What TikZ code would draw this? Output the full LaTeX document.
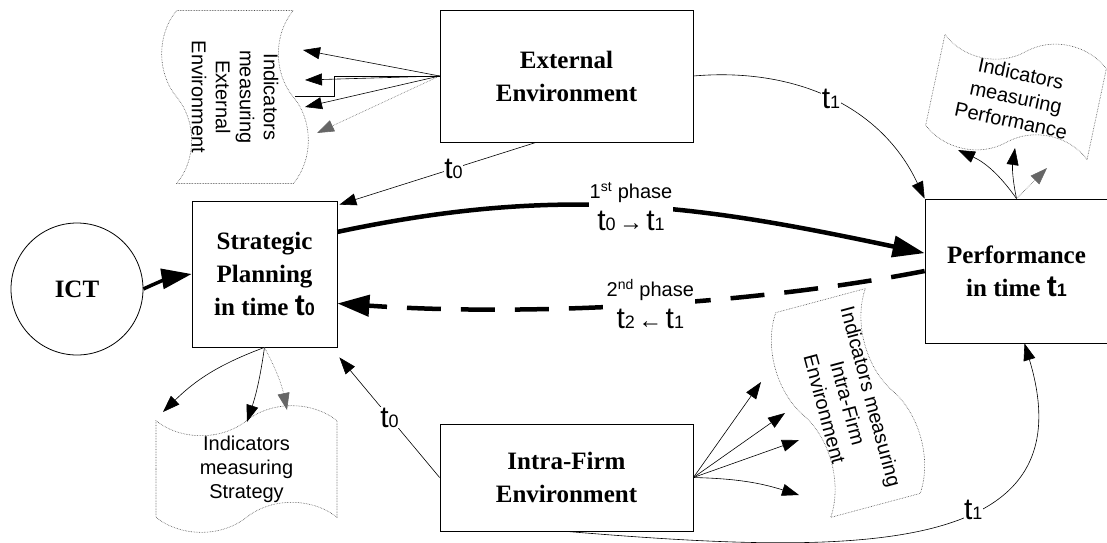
\documentclass[tikz,border=0pt]{standalone}
\usepackage{fontspec}
\setmainfont{Liberation Serif}
\setsansfont{Liberation Sans}
\usetikzlibrary{arrows.meta,shapes.symbols,calc}

% t with a small index, as in the labels
\newcommand{\tsub}[1]{{\sffamily\fontsize{30}{30}\selectfont t}{\sffamily\fontsize{18}{18}\selectfont #1}}
\newcommand{\tarr}[1]{\,{\sffamily\fontsize{24}{24}\selectfont #1}\,}

\tikzset{
  box/.style={draw, line width=0.8pt, align=center, inner sep=0pt,
    font=\rmfamily\bfseries\fontsize{25}{33}\selectfont},
  doc/.style={tape, draw=black!70, densely dotted, line width=0.6pt,
    tape bend top=in and out, tape bend bottom=in and out, tape bend height=30pt,
    align=center, inner sep=0pt, font=\sffamily\fontsize{20}{24}\selectfont},
  tip/.style={-{Triangle[length=17pt,width=12pt]}, line width=0.6pt},
  dotline/.style={densely dotted, draw=black!60},
  phase/.style={line width=4.5pt, -{Triangle[length=32pt,width=21pt]}},
  plbl/.style={fill=white, align=center, inner sep=1pt,
    font=\sffamily\fontsize{20}{32}\selectfont},
  tlbl/.style={fill=white, inner sep=0.5pt}
}

\begin{document}
\begin{tikzpicture}[x=1pt, y=-1pt]
  \useasboundingbox (0,0) rectangle (1107,542);

  % main boxes
  \node[box, minimum width=253, minimum height=132] (extenv) at (566.5,76) {External\\Environment};
  \node[box, minimum width=145, minimum height=146] (strat) at (264.5,274) {Strategic\\Planning\\in time \tsub{0}};
  \node[box, minimum width=183, minimum height=144] (perf) at (1016.5,271) {Performance\\in time \tsub{1}};
  \node[box, minimum width=253, minimum height=107] (intra) at (566.5,477.5) {Intra-Firm\\Environment};
  \node[box, circle, minimum size=132] (ict) at (77,289) {ICT};

  % indicator sheets
  \node[doc, rotate=-90, minimum width=173, minimum height=146] (indext) at (235,97) {Indicators\\measuring\\External\\Environment};
  \node[doc, rotate=-12, minimum width=165, minimum height=122] (indperf) at (1016,97) {Indicators\\measuring\\Performance};
  \node[doc, minimum width=181, minimum height=124] (indstrat) at (246.5,469) {Indicators\\measuring\\Strategy};
  \node[doc, rotate=-75, minimum width=212, minimum height=112] (indintra) at (848,403) {Indicators measuring\\Intra-Firm\\Environment};

  % ends of the arrows at the sheets
  \coordinate (ee1) at (303,50);
  \coordinate (ee2) at (305,80);
  \coordinate (ee3) at (305,107);
  \coordinate (ee4) at (317,133);
  \coordinate (es1) at (163,412);
  \coordinate (es2) at (247,422);
  \coordinate (es3) at (287,410);
  \coordinate (ep1) at (958,150);
  \coordinate (ep2) at (1015,148);
  \coordinate (ep3) at (1047,168);
  \coordinate (ei1) at (761,382);
  \coordinate (ei2) at (785,413);
  \coordinate (ei3) at (799,440);
  \coordinate (ei4) at (799,495);

  % the two phases
  \draw[line width=3.5pt, -{Triangle[length=30pt,width=20pt]}] (ict.east) to[bend left=8] (strat.west);
  \draw[phase] (strat.30) to[out=12,in=168]
    node[plbl] {1\textsuperscript{st} phase\\\tsub{0}\tarr{→}\tsub{1}} (perf.169);
  \draw[phase, dash pattern=on 34pt off 20pt] (perf.west) to[out=191,in=-4,looseness=0.8]
    node[plbl, pos=0.47] {2\textsuperscript{nd} phase\\\tsub{2}\tarr{←}\tsub{1}} (strat.-22);

  % environments
  \draw[tip] (extenv.east) to[out=5,in=115] node[tlbl, pos=0.5] {\tsub{1}} (perf.north west);
  \draw[tip] ($(extenv.south west)!0.38!(extenv.south east)$) -- node[tlbl, pos=0.42] {\tsub{0}} ($(strat.north east)+(2,4)$);
  \draw[tip] (intra.west) -- node[tlbl] {\tsub{0}} ($(strat.south east)+(2,10)$);
  \draw[tip] (intra.south) .. controls (850,555) and (1090,560) .. node[tlbl, pos=0.6] {\tsub{1}} ($(perf.south)+(8,0)$);

  % arrows to the indicators
  \foreach \c in {ee1,ee2,ee3} \draw[tip] (extenv.west) -- (\c);
  \draw[tip, dotline] (extenv.west) -- (ee4);
  \draw[line width=0.6pt] (extenv.west) -- ++(-105,0) -- ++(0,20) -- ++(-40,0);

  \draw[tip] (strat.south) to[bend right=12] (es1);
  \draw[tip] (strat.south) to[bend left=5] (es2);
  \draw[tip, dotline] (strat.south) to[bend left=8] (es3);

  \draw[tip] (perf.north) to[bend right=15] (ep1);
  \draw[tip] (perf.north) to[bend left=10] (ep2);
  \draw[tip, dotline] (perf.north) -- (ep3);

  \foreach \c in {ei1,ei2,ei3} \draw[tip] (intra.east) -- (\c);
  \draw[tip] (intra.east) to[bend left=8] (ei4);

\end{tikzpicture}
\end{document}
